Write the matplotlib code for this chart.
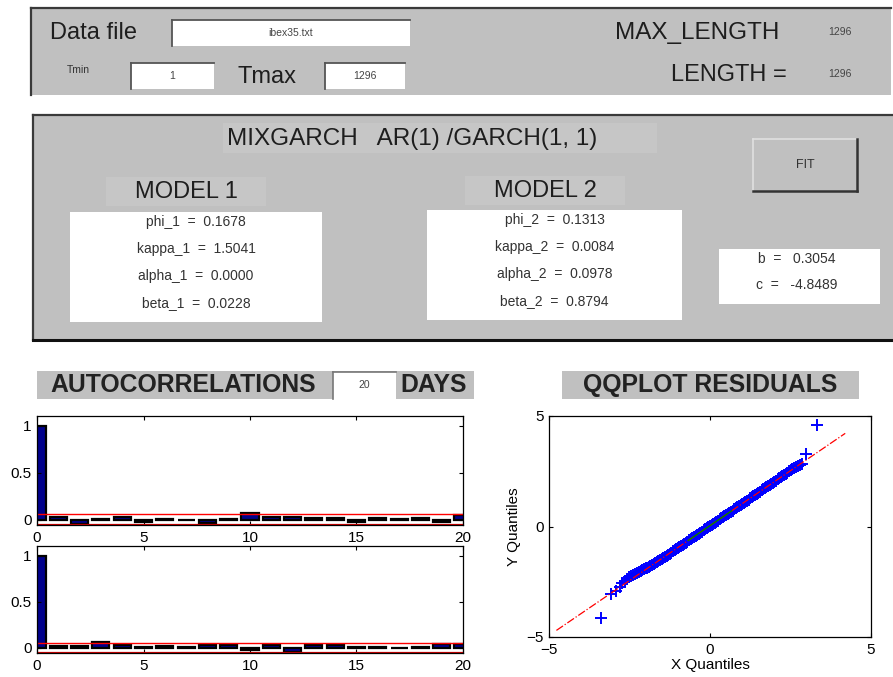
import matplotlib.pyplot as plt
from matplotlib.patches import Rectangle

plt.rcParams['font.family'] = ['Liberation Sans', 'DejaVu Sans']

W, H = 893, 677

# fitted parameters
model1_names = ["phi_1", "kappa_1", "alpha_1", "beta_1"]
model1_values = [0.1678, 1.5041, 0.0000, 0.0228]
model2_names = ["phi_2", "kappa_2", "alpha_2", "beta_2"]
model2_values = [0.1313, 0.0084, 0.0978, 0.8794]
mix_names = ["b", "c"]
mix_values = [0.3054, -4.8489]

data_file = "ibex35.txt"
tmin = 1
tmax = 1296
max_length = 1296
length = 1296
n_days = 20

# autocorrelations, lags 0..20
lags = list(range(0, 21))
acf_resid = [1.0, 0.025, -0.045, 0.002, 0.030, -0.030, 0.012, 0.000, -0.040, 0.007, 0.067,
             0.025, 0.030, 0.013, 0.017, -0.025, 0.017, 0.002, 0.017, -0.020, 0.045]
acf_sq = [1.0, 0.020, 0.015, 0.058, 0.035, 0.005, 0.015, 0.012, 0.035, 0.030, -0.025,
          0.025, -0.045, 0.035, 0.025, 0.005, 0.003, 0.002, 0.005, 0.045, 0.040]
conf_band = 0.0556

# qq plot of residuals (normal quantiles vs sorted residuals)
qq_x = [-3.39, -3.08, -2.93, -2.78, -2.72, -2.65, -2.59, -2.52, -2.46, -2.40, -2.34, -2.28,
        -2.22, -2.15, -2.10, -2.05, -2.00, -1.95, -1.90, -1.85, -1.80, -1.75, -1.70, -1.65,
        -1.60, -1.55, -1.50, -1.45, -1.40, -1.35, -1.30, -1.25, -1.20, -1.15, -1.10, -1.05,
        -1.00, -0.95, -0.90, -0.85, -0.80, -0.75, -0.70, -0.65, -0.60, -0.55, -0.50, -0.45,
        -0.40, -0.35, -0.30, -0.25, -0.20, -0.15, -0.10, -0.05, 0.00, 0.05, 0.10, 0.15,
        0.20, 0.25, 0.30, 0.35, 0.40, 0.45, 0.50, 0.55, 0.60, 0.65, 0.70, 0.75, 0.80, 0.85,
        0.90, 0.95, 1.00, 1.05, 1.10, 1.15, 1.20, 1.25, 1.30, 1.35, 1.40, 1.45, 1.50, 1.55,
        1.60, 1.65, 1.70, 1.75, 1.80, 1.85, 1.90, 1.95, 2.00, 2.05, 2.10, 2.15, 2.20, 2.25,
        2.30, 2.35, 2.40, 2.45, 2.50, 2.55, 2.60, 2.66, 2.72, 2.78, 2.85, 2.99, 3.32]
qq_y = [-4.12, -3.04, -2.92, -2.73, -2.55, -2.45, -2.36, -2.30, -2.24, -2.20, -2.16, -2.11,
        -2.06, -2.02, -1.98, -1.94, -1.90, -1.86, -1.82, -1.78, -1.74, -1.69, -1.65, -1.60,
        -1.56, -1.51, -1.47, -1.42, -1.37, -1.32, -1.28, -1.23, -1.18, -1.13, -1.08, -1.03,
        -0.98, -0.93, -0.88, -0.83, -0.78, -0.73, -0.68, -0.63, -0.58, -0.53, -0.48, -0.43,
        -0.38, -0.33, -0.28, -0.23, -0.18, -0.13, -0.08, -0.03, 0.02, 0.07, 0.12, 0.17,
        0.22, 0.27, 0.32, 0.37, 0.42, 0.47, 0.52, 0.57, 0.62, 0.67, 0.72, 0.77, 0.82, 0.87,
        0.92, 0.97, 1.02, 1.07, 1.12, 1.17, 1.22, 1.27, 1.32, 1.37, 1.42, 1.47, 1.52, 1.57,
        1.63, 1.68, 1.73, 1.78, 1.83, 1.88, 1.93, 1.98, 2.03, 2.08, 2.13, 2.18, 2.23, 2.28,
        2.33, 2.38, 2.43, 2.49, 2.55, 2.60, 2.64, 2.68, 2.73, 2.78, 2.85, 3.26, 4.59]
quart_x = [-0.674, 0.674]
quart_y = [-0.63, 0.71]
line_x = [-4.77, 4.20]

GRAY = "#c0c0c0"
LIGHT = "#c6c6c6"
EDGE = "#3a3a3a"
TXT = "#1e1e1e"


def px_axes(fig, left, top, right, bottom):
    return fig.add_axes([left / W, 1 - bottom / H, (right - left) / W, (bottom - top) / H])


def panel(ax, x0, y0, x1, y1, color=GRAY, bottom=False):
    ax.add_patch(Rectangle((x0, y0), x1 - x0, y1 - y0, facecolor=color, edgecolor="none"))
    ax.plot([x0, x1], [y0, y0], color=EDGE, lw=1.6)
    ax.plot([x0, x0], [y0, y1], color=EDGE, lw=1.6)
    if bottom:
        ax.plot([x0, x1], [y1, y1], color="#111111", lw=2.2)


def edit_box(ax, x0, y0, x1, y1, text, size=7.5):
    ax.add_patch(Rectangle((x0, y0), x1 - x0, y1 - y0, facecolor="white", edgecolor="none"))
    ax.plot([x0, x1], [y0, y0], color="#555555", lw=1.3)
    ax.plot([x0, x0], [y0, y1], color="#555555", lw=1.3)
    ax.text((x0 + x1) / 2, (y0 + y1) / 2, text, ha="center", va="center",
            fontsize=size, color="#444444")


fig = plt.figure(figsize=(W / 100, H / 100), dpi=100)
fig.patch.set_facecolor("white")

gui = fig.add_axes([0, 0, 1, 1])
gui.set_xlim(0, W)
gui.set_ylim(H, 0)
gui.axis("off")

# file / range panel
panel(gui, 31, 8, 891, 95)
gui.text(50, 33, "Data file", fontsize=17, color=TXT, va="center", ha="left")
edit_box(gui, 172, 20, 410, 46, data_file)
gui.text(78, 70, "Tmin", fontsize=7.5, color="#333333", va="center", ha="center")
edit_box(gui, 131, 63, 214, 89, str(tmin))
gui.text(238, 77, "Tmax", fontsize=17, color=TXT, va="center", ha="left")
edit_box(gui, 325, 63, 405, 89, str(tmax))
gui.text(615, 33, "MAX_LENGTH", fontsize=17.5, color=TXT, va="center", ha="left")
gui.text(840, 32, str(max_length), fontsize=7.5, color="#444444", va="center", ha="center")
gui.text(787, 75, "LENGTH =", fontsize=17, color=TXT, va="center", ha="right")
gui.text(840, 74, str(length), fontsize=7.5, color="#444444", va="center", ha="center")

# model panel
panel(gui, 33, 115, 893, 340, bottom=True)
gui.add_patch(Rectangle((223, 123), 434, 30, facecolor=LIGHT, edgecolor="none"))
gui.text(412, 139, "MIXGARCH   AR(1) /GARCH(1, 1)", fontsize=17.5, color=TXT,
         ha="center", va="center")

# FIT button
gui.add_patch(Rectangle((753, 139), 104, 52, facecolor=GRAY, edgecolor="none"))
gui.plot([753, 857], [139, 139], color="#e0e0e0", lw=1.2)
gui.plot([753, 753], [139, 191], color="#e0e0e0", lw=1.2)
gui.plot([753, 857], [191, 191], color="#333333", lw=1.8)
gui.plot([857, 857], [139, 191], color="#333333", lw=1.8)
gui.text(805, 165, "FIT", fontsize=9, color="#333333", ha="center", va="center")

for cx, cy, title, bx, names, vals in [
        (186, 192, "MODEL 1", (70, 212, 322, 322), model1_names, model1_values),
        (545, 191, "MODEL 2", (427, 210, 682, 320), model2_names, model2_values)]:
    gui.add_patch(Rectangle((cx - 80, cy - 15), 160, 29, facecolor=LIGHT, edgecolor="none"))
    gui.text(cx, cy, title, fontsize=17, color=TXT, ha="center", va="center")
    x0, y0, x1, y1 = bx
    gui.add_patch(Rectangle((x0, y0), x1 - x0, y1 - y0, facecolor="white", edgecolor="none"))
    for i, (nm, v) in enumerate(zip(names, vals)):
        gui.text((x0 + x1) / 2, y0 + 10 + 27 * i, f"{nm}  =  {v:.4f}", fontsize=10,
                 color="#333333", ha="center", va="center")

gui.add_patch(Rectangle((719, 249), 161, 55, facecolor="white", edgecolor="none"))
for i, (nm, v) in enumerate(zip(mix_names, mix_values)):
    gui.text(797, 259 + 26 * i, f"{nm}  =   {v:.4f}", fontsize=10, color="#333333",
             ha="center", va="center")

# section headers
gui.add_patch(Rectangle((37, 371), 437, 28, facecolor=GRAY, edgecolor="none"))
gui.text(50, 385, "AUTOCORRELATIONS", fontsize=17.8, fontweight="bold", color="#222222",
         ha="left", va="center")
gui.add_patch(Rectangle((333, 372), 63, 27, facecolor="white", edgecolor="none"))
gui.plot([333, 396], [372, 372], color="#777777", lw=1.2)
gui.plot([333, 333], [372, 399], color="#777777", lw=1.2)
gui.text(364, 385, str(n_days), fontsize=7.5, color="#444444", ha="center", va="center")
gui.text(400, 385, "DAYS", fontsize=17.8, fontweight="bold", color="#222222",
         ha="left", va="center")

gui.add_patch(Rectangle((562, 371), 297, 28, facecolor=GRAY, edgecolor="none"))
gui.text(710, 385, "QQPLOT RESIDUALS", fontsize=17.8, fontweight="bold", color="#222222",
         ha="center", va="center")


def style_axes(ax):
    ax.tick_params(direction="in", top=True, right=True, length=3, labelsize=11, pad=4)
    for s in ax.spines.values():
        s.set_linewidth(0.9)


# autocorrelation plots
for (top, bottom), acf in [((416, 525), acf_resid), ((546, 653), acf_sq)]:
    ax = px_axes(fig, 37, top, 463, bottom)
    ax.bar(lags, acf, width=0.8, color="#00008b", edgecolor="black", linewidth=1.6)
    ax.axhline(conf_band, color="red", lw=1.0)
    ax.axhline(-conf_band, color="#cc0000", lw=1.6)
    ax.set_xlim(0, 20)
    ax.set_ylim(-0.057, 1.106)
    ax.set_xticks([0, 5, 10, 15, 20])
    ax.set_yticks([0, 0.5, 1])
    ax.set_yticklabels(["0", "0.5", "1"])
    style_axes(ax)

# qq plot
ax = px_axes(fig, 549, 416, 871, 637)
slope = (quart_y[1] - quart_y[0]) / (quart_x[1] - quart_x[0])
ext_y = [quart_y[0] + slope * (x - quart_x[0]) for x in line_x]
ax.plot(qq_x, qq_y, "+", color="#0000ff", markersize=8.5, mew=1.4)
ax.plot(line_x, ext_y, "-.", color="red", lw=0.9)
ax.plot(quart_x, quart_y, "-", color="green", lw=1.0)
ax.set_xlim(-5, 5)
ax.set_ylim(-5, 5)
ax.set_xticks([-5, 0, 5])
ax.set_yticks([-5, 0, 5])
ax.set_xticklabels(["\u22125", "0", "5"])
ax.set_yticklabels(["\u22125", "0", "5"])
ax.set_xlabel("X Quantiles", fontsize=11, labelpad=1)
ax.set_ylabel("Y Quantiles", fontsize=11, labelpad=4)
style_axes(ax)

fig.savefig("out.png", dpi=100, facecolor="white")
